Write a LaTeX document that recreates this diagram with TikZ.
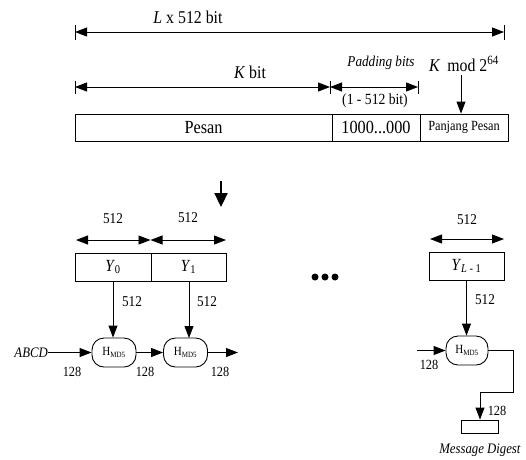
\documentclass[tikz,border=0pt]{standalone}
\usepackage{fontspec}
\setmainfont[FakeStretch=0.88]{Liberation Serif}
\usetikzlibrary{arrows.meta}
\newcommand{\fs}[1]{\fontsize{#1}{#1}\selectfont}
\tikzset{
  ln/.style={line width=0.9pt},
  tip/.style={ln,-{Triangle[length=12pt,width=9pt]}},
  dtip/.style={ln,{Triangle[length=12pt,width=9pt]}-{Triangle[length=12pt,width=9pt]}},
  tick/.style={ln},
  blk/.style={draw,ln,inner sep=0pt,anchor=center},
  hmd/.style={draw,ln,inner sep=0pt,minimum width=44pt,minimum height=29pt,rounded corners=12pt},
  lbl/.style={inner sep=0pt,anchor=center}
}
\begin{document}
\begin{tikzpicture}[x=1pt,y=-1pt]
\useasboundingbox (0,0) rectangle (526,459);
% top dimension
\coordinate (t1) at (75,32); \coordinate (t2) at (504,32);
\draw[dtip] (t1) -- (t2);
\draw[tick] (75,25) -- (75,40); \draw[tick] (504,25) -- (504,40);
\node[lbl,font=\fs{18}] (lx) at (188,17) {\textit{L} x 512 bit};
% K bit / padding
\coordinate (k1) at (75,87); \coordinate (k2) at (330,87); \coordinate (k3) at (418,87);
\draw[dtip] (k1) -- (k2);
\draw[dtip] (k2) -- (k3);
\draw[tick] (75,81) -- (75,94); \draw[tick] (330,81) -- (330,94); \draw[tick] (418,81) -- (418,94);
\node[lbl,font=\fs{18}] (kb) at (250,72) {\textit{K} bit};
\node[lbl,font=\fs{15}] (pb) at (381,63) {\textit{Padding bits}};
\node[lbl,font=\fs{15.5}] (ob) at (375,101) {(1 - 512 bit)};
\node[lbl,font=\fs{18}] (km) at (464,64) {\textit{K}\, mod 2\textsuperscript{64}};
% boxes
\node[blk,minimum width=257pt,minimum height=27pt,font=\fs{18.5}] (pesan) at (203.5,127.5) {Pesan};
\node[blk,minimum width=88pt,minimum height=27pt,font=\fs{18.5}] (pad) at (376,127.5) {1000...000};
\node[blk,minimum width=88pt,minimum height=27pt,font=\fs{14}] (pan) at (464,127.5) {Panjang Pesan};
\coordinate (kma) at (461,75);
\draw[tip] (kma) -- (kma |- pan.north);
% thick arrow
\coordinate (ta) at (221,181); \coordinate (tb) at (221,207);
\draw[line width=2.2pt,-{Triangle[length=14pt,width=13pt]}] (ta) -- (tb);
% 512 arrows
\coordinate (a1) at (76,240); \coordinate (a2) at (150.5,240); \coordinate (a3) at (226,240);
\draw[dtip] (a1) -- (a2);
\draw[dtip] (a2) -- (a3);
\node[lbl,font=\fs{15}] (l1) at (113,219) {512};
\node[lbl,font=\fs{15}] (l2) at (188,218) {512};
% Y boxes
\node[blk,minimum width=76pt,minimum height=28pt,font=\fs{17}] (y0) at (113,267) {\textit{Y}\textsubscript{0}};
\node[blk,minimum width=75pt,minimum height=28pt,font=\fs{17}] (y1) at (188.5,267) {\textit{Y}\textsubscript{1}};
% H boxes
\node[hmd,font=\fs{12.5}] (h1) at (114,352.5) {H\textsubscript{\fs{8}MD5}};
\node[hmd,font=\fs{12.5}] (h2) at (185.5,352.5) {H\textsubscript{\fs{8}MD5}};
\draw[tip] (y0.south) -- (y0.south |- h1.north);
\draw[tip] (189,281) -- (189,338);
\node[lbl,font=\fs{15}] (l3) at (132,302) {512};
\node[lbl,font=\fs{15}] (l4) at (207,302) {512};
\node[lbl,anchor=east,font=\fs{14.5}] (abcd) at (48,352.5) {\textit{ABCD}};
\draw[tip] (abcd.east) -- (h1.west);
\draw[tip] (h1.east) -- (h2.west);
\coordinate (o2) at (238,352.5);
\draw[tip] (h2.east) -- (o2);
\node[lbl,font=\fs{14}] (n1) at (72,372) {128};
\node[lbl,font=\fs{14}] (n2) at (145,372) {128};
\node[lbl,font=\fs{14}] (n3) at (220,372) {128};
% dots
\fill (315,277) circle (3.5pt);
\fill (325,277) circle (3.5pt);
\fill (335,277) circle (3.5pt);
% right part
\coordinate (b1) at (430,239); \coordinate (b2) at (504,239);
\draw[dtip] (b1) -- (b2);
\node[lbl,font=\fs{15}] (l5) at (467,220) {512};
\node[blk,minimum width=75pt,minimum height=28pt,font=\fs{17}] (yl) at (466.5,266) {\textit{Y}\textsubscript{\textit{L} - 1}};
\node[hmd,minimum width=42pt,font=\fs{12.5}] (h3) at (467,350.5) {H\textsubscript{\fs{8}MD5}};
\draw[tip] (yl.south) -- (yl.south |- h3.north);
\node[lbl,font=\fs{15}] (l6) at (485,300) {512};
\coordinate (i3) at (417,350.5);
\draw[tip] (i3) -- (h3.west);
\node[lbl,font=\fs{14}] (n4) at (429,365) {128};
\node[blk,minimum width=37pt,minimum height=13pt] (md) at (479.5,426.5) {};
\coordinate (c1) at (513,350.5); \coordinate (c2) at (513,392); \coordinate (c3) at (480,392);
\draw[ln] (h3.east) -- (c1) -- (c2) -- (c3);
\draw[tip] (c3) -- (c3 |- md.north);
\node[lbl,font=\fs{14}] (n5) at (497,411) {128};
\node[lbl,font=\fs{14.5}] (mdl) at (480,450) {\textit{Message Digest}};
\end{tikzpicture}
\end{document}
